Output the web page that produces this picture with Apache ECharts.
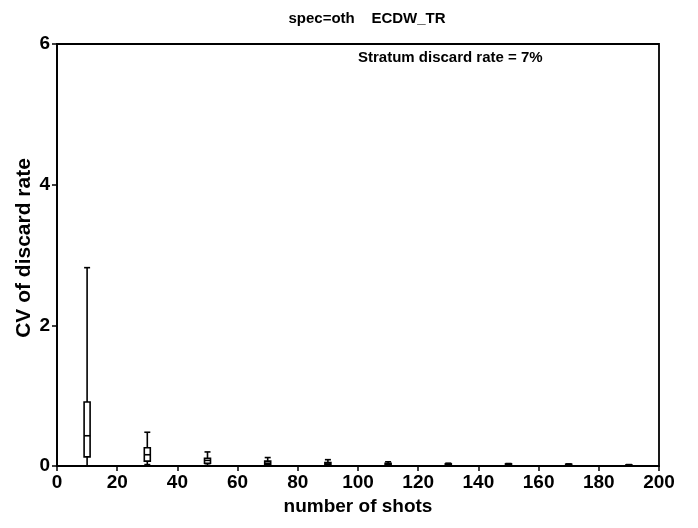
<!DOCTYPE html>
<html><head><meta charset="utf-8">
<script src="https://cdn.jsdelivr.net/npm/echarts@6/dist/echarts.min.js"></script>
<style>html,body{margin:0;padding:0;background:#fff}#c{width:698px;height:528px}</style>
</head><body><div id="c"></div>
<script>
var shots = [10, 30, 50, 70, 90, 110, 130, 150, 170, 190];
var whiskerLow = [0.0, 0.02, 0.01, 0.01, 0.005, 0.005, 0.005, 0.005, 0.005, 0.003];
var q1 = [0.13, 0.07, 0.04, 0.02, 0.02, 0.01, 0.01, 0.01, 0.01, 0.005];
var median = [0.43, 0.16, 0.08, 0.04, 0.03, 0.025, 0.02, 0.02, 0.015, 0.01];
var q3 = [0.91, 0.26, 0.11, 0.07, 0.05, 0.04, 0.03, 0.03, 0.025, 0.015];
var whiskerHigh = [2.82, 0.48, 0.20, 0.12, 0.09, 0.06, 0.04, 0.035, 0.03, 0.02];
var xTicks = [0, 20, 40, 60, 80, 100, 120, 140, 160, 180, 200];
var yTicks = [0, 2, 4, 6];

var rows = shots.map(function (s, i) { return [s, whiskerLow[i], q1[i], median[i], q3[i], whiskerHigh[i]]; });
var F = '"Liberation Sans", Arial, sans-serif';
var chart = echarts.init(document.getElementById('c'));
chart.setOption({
  animation: false,
  title: { text: 'spec=oth    ECDW_TR', left: 362, textAlign: 'center', top: 6,
    textStyle: { fontFamily: F, fontWeight: 'bold', fontSize: 15, color: '#000' } },
  grid: { left: 57, right: 39, top: 44, bottom: 62, show: true, borderColor: '#000', borderWidth: 1.8 },
  xAxis: { type: 'value', min: 0, max: 200, interval: 20,
    name: 'number of shots', nameLocation: 'middle', nameGap: 31,
    nameTextStyle: { fontFamily: F, fontWeight: 'bold', fontSize: 19, color: '#000' },
    axisLine: { lineStyle: { color: '#000', width: 1.8 } },
    axisTick: { show: true, length: 5, lineStyle: { color: '#000', width: 1.5 } },
    axisLabel: { fontFamily: F, fontWeight: 'bold', fontSize: 19, color: '#000', margin: 7,
      formatter: function (v) { return xTicks.indexOf(v) >= 0 ? String(v) : ''; } },
    splitLine: { show: false } },
  yAxis: { type: 'value', min: 0, max: 6, interval: 2,
    name: 'CV of discard rate', nameLocation: 'middle', nameGap: 22, nameRotate: 90, nameMoveOverlap: false,
    nameTextStyle: { fontFamily: F, fontWeight: 'bold', fontSize: 21, color: '#000', padding: [0, 0, 0, 14] },
    axisLine: { show: true, lineStyle: { color: '#000', width: 1.8 } },
    axisTick: { show: true, length: 5, lineStyle: { color: '#000', width: 1.5 } },
    axisLabel: { fontFamily: F, fontWeight: 'bold', fontSize: 19, color: '#000', margin: 7,
      formatter: function (v) { return yTicks.indexOf(v) >= 0 ? String(v) : ''; } },
    splitLine: { show: false } },
  graphic: [{ type: 'text', left: 358, top: 50,
    style: { text: 'Stratum discard rate = 7%', fontFamily: F, fontWeight: 'bold', fontSize: 15, fill: '#000' } }],
  series: [{
    type: 'custom',
    data: rows,
    encode: { x: 0, y: [1, 2, 3, 4, 5] },
    renderItem: function (params, api) {
      var x = api.value(0);
      var pLo = api.coord([x, api.value(1)]);
      var pQ1 = api.coord([x, api.value(2)]);
      var pMd = api.coord([x, api.value(3)]);
      var pQ3 = api.coord([x, api.value(4)]);
      var pHi = api.coord([x, api.value(5)]);
      var cx = pLo[0], bw = 3, cw = 3;
      var ls = { stroke: '#000', lineWidth: 1.6, fill: 'none' };
      return { type: 'group', children: [
        { type: 'line', shape: { x1: cx, y1: pHi[1], x2: cx, y2: pQ3[1] }, style: ls },
        { type: 'line', shape: { x1: cx, y1: pQ1[1], x2: cx, y2: pLo[1] }, style: ls },
        { type: 'line', shape: { x1: cx - cw, y1: pHi[1], x2: cx + cw, y2: pHi[1] }, style: ls },
        { type: 'line', shape: { x1: cx - cw, y1: pLo[1], x2: cx + cw, y2: pLo[1] }, style: ls },
        { type: 'rect', shape: { x: cx - bw, y: pQ3[1], width: 2 * bw, height: pQ1[1] - pQ3[1] },
          style: { stroke: '#000', lineWidth: 1.6, fill: '#fff' } },
        { type: 'line', shape: { x1: cx - bw, y1: pMd[1], x2: cx + bw, y2: pMd[1] }, style: ls }
      ] };
    }
  }]
});
</script></body></html>
